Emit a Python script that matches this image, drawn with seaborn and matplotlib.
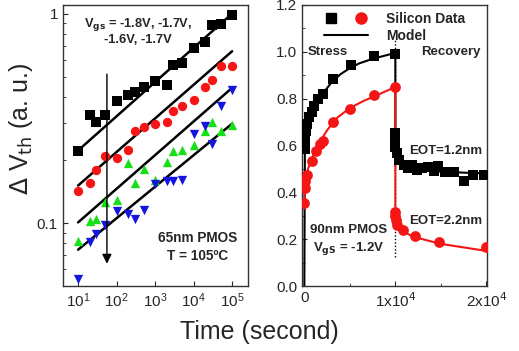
import seaborn as sns
import matplotlib.pyplot as plt
from matplotlib.lines import Line2D
from matplotlib.legend_handler import HandlerTuple
from matplotlib.ticker import FixedLocator, NullFormatter

# ---- left panel: 65nm PMOS, log-log stress data ----
t_log = [10, 20, 30, 50, 100, 200, 300, 500, 1000, 2000, 3000, 5000, 1e4, 2e4, 3e4, 5e4, 1e5]
v_18 = [0.220, 0.329, 0.304, 0.329, 0.381, 0.407, 0.423, 0.447, 0.479, 0.458, 0.571, 0.581,
        0.685, 0.730, 0.880, 0.896, 0.989]
v_17a = [0.142, 0.156, 0.179, 0.210, 0.204, 0.224, 0.274, 0.288, 0.297, 0.303, 0.344, 0.361,
         0.388, 0.446, 0.484, 0.560, 0.565]
v_16 = [0.082, 0.102, 0.104, 0.126, 0.129, 0.194, 0.155, 0.181, 0.160, 0.196, 0.220, 0.222,
        0.237, 0.276, 0.303, 0.276, 0.295]
v_17b = [0.054, 0.081, 0.089, 0.098, 0.114, 0.110, 0.104, 0.116, 0.153, 0.159, 0.158, 0.161,
         0.267, 0.292, 0.239, 0.364, 0.433]

fit_t = [10, 1e5]
fit_18 = [0.222, 1.0]
fit_17a = [0.151, 0.661]
fit_16 = [0.1007, 0.442]
fit_17b = [0.0746, 0.298]

# ---- right panel: 90nm PMOS, stress / recovery ----
blk_t = [20, 60, 150, 300, 500, 800, 1100, 1500, 2000, 3200, 5100, 7600, 10000,
         10000, 10000, 10000, 10200, 10450, 10900, 11400, 11800, 12400, 12900, 13600,
         14200, 14700, 15450, 16400, 17500, 18500, 19750]
blk_v = [0.585, 0.625, 0.66, 0.69, 0.72, 0.745, 0.77, 0.80, 0.82, 0.885, 0.945, 0.98, 0.99,
         0.655, 0.62, 0.595, 0.566, 0.537, 0.516, 0.502, 0.516, 0.494, 0.504, 0.509,
         0.49, 0.513, 0.487, 0.487, 0.447, 0.473, 0.476]
red_t = [10, 30, 100, 300, 800, 1300, 1700, 2000, 3200, 5000, 7600, 10000,
         10000, 10000, 10050, 10200, 10800, 12200, 14800, 19950]
red_v = [0.355, 0.42, 0.45, 0.475, 0.535, 0.575, 0.605, 0.62, 0.70, 0.755, 0.815, 0.85,
         0.316, 0.30, 0.28, 0.26, 0.238, 0.212, 0.19, 0.167]

blk_model_t = [0, 60, 200, 500, 1000, 1500, 2000, 3000, 4000, 5000, 6000, 7500, 9000, 10000,
               10000, 10150, 10500, 11000, 12000, 14000, 17000, 20000]
blk_model_v = [0.0, 0.59, 0.66, 0.71, 0.76, 0.795, 0.82, 0.87, 0.905, 0.93, 0.95, 0.97, 0.985, 0.995,
               0.60, 0.55, 0.525, 0.51, 0.50, 0.49, 0.485, 0.48]
red_model_t = [0, 30, 150, 400, 800, 1200, 1700, 2500, 3500, 5000, 6500, 8000, 10000,
               10000, 10100, 10400, 11000, 12000, 13500, 15000, 17500, 20000]
red_model_v = [0.33, 0.40, 0.45, 0.50, 0.54, 0.58, 0.615, 0.665, 0.715, 0.76, 0.79, 0.815, 0.85,
               0.30, 0.265, 0.245, 0.23, 0.21, 0.195, 0.18, 0.165, 0.15]

RED = "#f51515"
GREEN = "#18e018"
BLUE = "#1515e0"

sns.set_style("ticks")
plt.rcParams["font.family"] = ["Liberation Sans", "DejaVu Sans"]
plt.rcParams["xtick.direction"] = "in"
plt.rcParams["ytick.direction"] = "in"

fig = plt.figure(figsize=(5.19, 3.51), dpi=100)
ax1 = fig.add_axes([0.121, 0.185, 0.357, 0.801])
ax2 = fig.add_axes([0.582, 0.185, 0.356, 0.801])

# left panel
for vals, fit, col, mk in [(v_18, fit_18, "black", "s"), (v_17a, fit_17a, RED, "o"),
                           (v_16, fit_16, GREEN, "^"), (v_17b, fit_17b, BLUE, "v")]:
    sns.lineplot(x=fit_t, y=fit, color="black", lw=1.8, ax=ax1, estimator=None, sort=False)
    sns.scatterplot(x=t_log, y=vals, color=col, marker=mk, s=45, linewidth=0, ax=ax1, zorder=3)

ax1.set_xscale("log")
ax1.set_yscale("log")
ax1.set_xlim(4, 2.6e5)
ax1.set_ylim(0.05, 1.1)
ax1.set_xticks([10, 100, 1000, 1e4, 1e5])
ax1.yaxis.set_major_locator(FixedLocator([0.1, 1]))
ax1.set_yticklabels(["0.1", "1"])
ax1.yaxis.set_minor_formatter(NullFormatter())
ax1.tick_params(labelsize=11, width=0.8)
ax1.tick_params(which="minor", width=0.6)
ax1.set_ylabel(r"$\Delta$ V$_{\rm th}$ (a. u.)", fontsize=18)
ax1.yaxis.set_label_coords(-0.15, 0.56)
ax1.annotate("", xy=(56, 0.062), xytext=(56, 0.53),
             arrowprops=dict(arrowstyle="-|>", color="black", lw=1, mutation_scale=14))
ax1.text(0.405, 0.907, "V$_{\\mathbf{gs}}$ = -1.8V, -1.7V,\n-1.6V, -1.7V", transform=ax1.transAxes,
         ha="center", va="center", fontsize=9.3, fontweight="bold", linespacing=1.15)
ax1.text(0.73, 0.139, "65nm PMOS\nT = 105ºC", transform=ax1.transAxes,
         ha="center", va="center", fontsize=9.8, fontweight="bold", linespacing=1.35)

# right panel
ax2.axvline(10000, ymin=0.103, ymax=0.875, color="black", lw=1, ls=(0, (1, 1.5)))
sns.lineplot(x=blk_model_t, y=blk_model_v, color="black", lw=1.5, ax=ax2, estimator=None, sort=False)
sns.lineplot(x=red_model_t, y=red_model_v, color=RED, lw=1.5, ax=ax2, estimator=None, sort=False)
sns.scatterplot(x=blk_t, y=blk_v, color="black", marker="s", s=50, linewidth=0, ax=ax2, zorder=3)
sns.scatterplot(x=red_t, y=red_v, color=RED, marker="o", s=60, linewidth=0, ax=ax2, zorder=3)

ax2.set_xlim(-250, 20050)
ax2.set_ylim(0, 1.2)
ax2.set_xticks([0, 10000, 20000])
ax2.set_xticklabels(["0", "1x10$^4$", "2x10$^4$"])
ax2.set_xticks([5000, 15000], minor=True)
ax2.set_yticks([0.0, 0.2, 0.4, 0.6, 0.8, 1.0, 1.2])
ax2.set_yticklabels(["0.0", "0.2", "0.4", "0.6", "0.8", "1.0", "1.2"])
ax2.set_yticks([0.1, 0.3, 0.5, 0.7, 0.9, 1.1], minor=True)
ax2.tick_params(labelsize=11, width=0.8)
ax2.tick_params(which="minor", width=0.6, length=2.5)
ax2.set_xlabel("")
ax2.set_ylabel("")

bold = dict(fontsize=9.5, fontweight="bold")
ax2.text(0.03, 1.0, "Stress", transform=ax2.get_yaxis_transform(), ha="left", va="center", **bold)
ax2.text(0.965, 1.0, "Recovery", transform=ax2.get_yaxis_transform(), ha="right", va="center", **bold)
ax2.text(0.78, 0.576, "EOT=1.2nm", transform=ax2.get_yaxis_transform(), ha="center", va="center", **bold)
ax2.text(0.78, 0.276, "EOT=2.2nm", transform=ax2.get_yaxis_transform(), ha="center", va="center", **bold)
ax2.text(0.25, 0.195, "90nm PMOS\nV$_{\\mathbf{gS}}$ = -1.2V", transform=ax2.get_yaxis_transform(),
         ha="center", va="center", fontsize=9.5, fontweight="bold", linespacing=1.3)

h_data = (Line2D([], [], marker="s", color="black", ls="none", markersize=7),
          Line2D([], [], marker="o", color=RED, ls="none", markersize=8))
h_model = Line2D([], [], color="black", lw=1.5)
ax2.legend([h_data, h_model], ["Silicon Data", "Model"],
           handler_map={tuple: HandlerTuple(ndivide=None, pad=1.2)},
           loc="upper center", bbox_to_anchor=(0.5, 1.02), frameon=False,
           handlelength=3.2, handletextpad=1.3, labelspacing=0.2,
           prop=dict(size=10, weight="bold"))

for ax in (ax1, ax2):
    for sp in ax.spines.values():
        sp.set_visible(True)
        sp.set_linewidth(1)
        sp.set_color("#333333")

fig.text(0.5, 0.054, "Time (second)", ha="center", va="center", fontsize=18)

fig.savefig("out.png", dpi=100)
